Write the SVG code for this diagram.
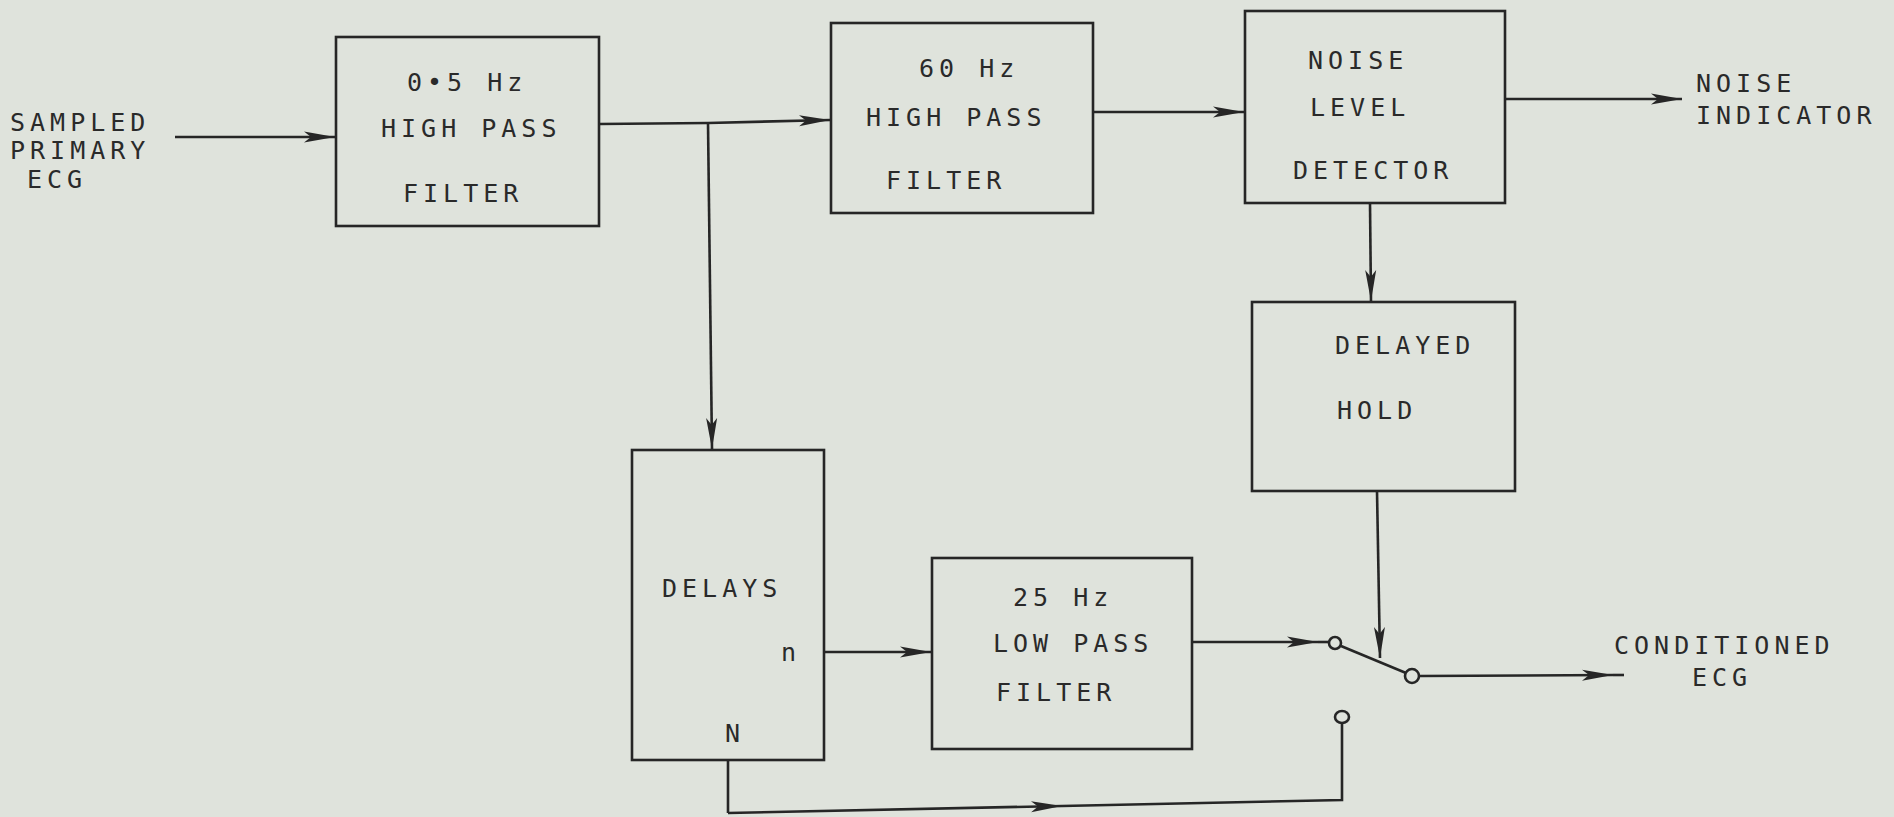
<svg xmlns="http://www.w3.org/2000/svg" width="1894" height="817" viewBox="0 0 1894 817">
<style>
.box{fill:none;stroke:#262626;stroke-width:2.6}
.ln{fill:none;stroke:#262626;stroke-width:2.6}
.arr{fill:none;stroke:#262626;stroke-width:2.6;marker-end:url(#ah)}
.t{font-family:"DejaVu Sans Mono","Liberation Mono",monospace;font-size:25px;letter-spacing:5px;fill:#2a2a2a}
.c{fill:none;stroke:#262626;stroke-width:2.6}
</style>
<defs>
<marker id="ah" markerUnits="userSpaceOnUse" markerWidth="34" markerHeight="14" refX="31" refY="7" orient="auto">
<path d="M0,1.5 L31,7 L0,12.5 L7,7 z" fill="#262626"/>
</marker>
</defs>
<rect x="0" y="0" width="1894" height="817" fill="#dfe3dc"/>

<g id="input-label">
<text class="t" x="10" y="131">SAMPLED</text>
<text class="t" x="10" y="159">PRIMARY</text>
<text class="t" x="27" y="188">ECG</text>
</g>

<g id="hp05">
<rect class="box" x="336" y="37" width="263" height="189"/>
<text class="t" x="407" y="91">0•5 Hz</text>
<text class="t" x="381" y="137">HIGH PASS</text>
<text class="t" x="403" y="202">FILTER</text>
</g>

<g id="hp60">
<rect class="box" x="831" y="23" width="262" height="190"/>
<text class="t" x="919" y="77">60 Hz</text>
<text class="t" x="866" y="126">HIGH PASS</text>
<text class="t" x="886" y="189">FILTER</text>
</g>

<g id="noise-detector">
<rect class="box" x="1245" y="11" width="260" height="192"/>
<text class="t" x="1308" y="69">NOISE</text>
<text class="t" x="1310" y="116">LEVEL</text>
<text class="t" x="1293" y="179">DETECTOR</text>
</g>

<g id="noise-indicator">
<text class="t" x="1696" y="92">NOISE</text>
<text class="t" x="1696" y="124">INDICATOR</text>
</g>

<g id="delayed-hold">
<rect class="box" x="1252" y="302" width="263" height="189"/>
<text class="t" x="1335" y="354">DELAYED</text>
<text class="t" x="1337" y="419">HOLD</text>
</g>

<g id="delays">
<rect class="box" x="632" y="450" width="192" height="310"/>
<text class="t" x="662" y="597">DELAYS</text>
<text class="t" x="781" y="661">n</text>
<text class="t" x="725" y="742">N</text>
</g>

<g id="lp25">
<rect class="box" x="932" y="558" width="260" height="191"/>
<text class="t" x="1013" y="606">25 Hz</text>
<text class="t" x="993" y="652">LOW PASS</text>
<text class="t" x="996" y="701">FILTER</text>
</g>

<g id="switch">
<circle class="c" cx="1335" cy="643" r="6"/>
<line class="ln" x1="1341" y1="646" x2="1406" y2="673"/>
<circle class="c" cx="1412" cy="676" r="7"/>
<ellipse class="c" cx="1342" cy="717" rx="7" ry="6"/>
</g>

<g id="output-label">
<text class="t" x="1614" y="654">CONDITIONED</text>
<text class="t" x="1692" y="686">ECG</text>
</g>

<g id="connectors">
<line class="arr" x1="175" y1="137" x2="335" y2="137"/>
<line class="ln" x1="599" y1="124" x2="708" y2="123"/>
<line class="arr" x1="708" y1="123" x2="830" y2="120"/>
<line class="arr" x1="708" y1="123" x2="712" y2="449"/>
<line class="arr" x1="1093" y1="112" x2="1244" y2="112"/>
<line class="arr" x1="1505" y1="99" x2="1682" y2="99"/>
<line class="arr" x1="1370" y1="203" x2="1371" y2="301"/>
<line class="arr" x1="1377" y1="491" x2="1380" y2="658"/>
<line class="arr" x1="824" y1="652" x2="931" y2="652"/>
<line class="arr" x1="1192" y1="642" x2="1318" y2="642"/>
<line class="ln" x1="1318" y1="642" x2="1329" y2="642"/>
<line class="arr" x1="1419" y1="676" x2="1613" y2="675"/>
<line class="ln" x1="1613" y1="675" x2="1624" y2="675"/>
<polyline class="ln" points="1342,723 1342,800 1062,806"/>
<line class="arr" x1="728" y1="813" x2="1062" y2="806"/>
<line class="ln" x1="728" y1="760" x2="728" y2="813"/>
</g>
</svg>
